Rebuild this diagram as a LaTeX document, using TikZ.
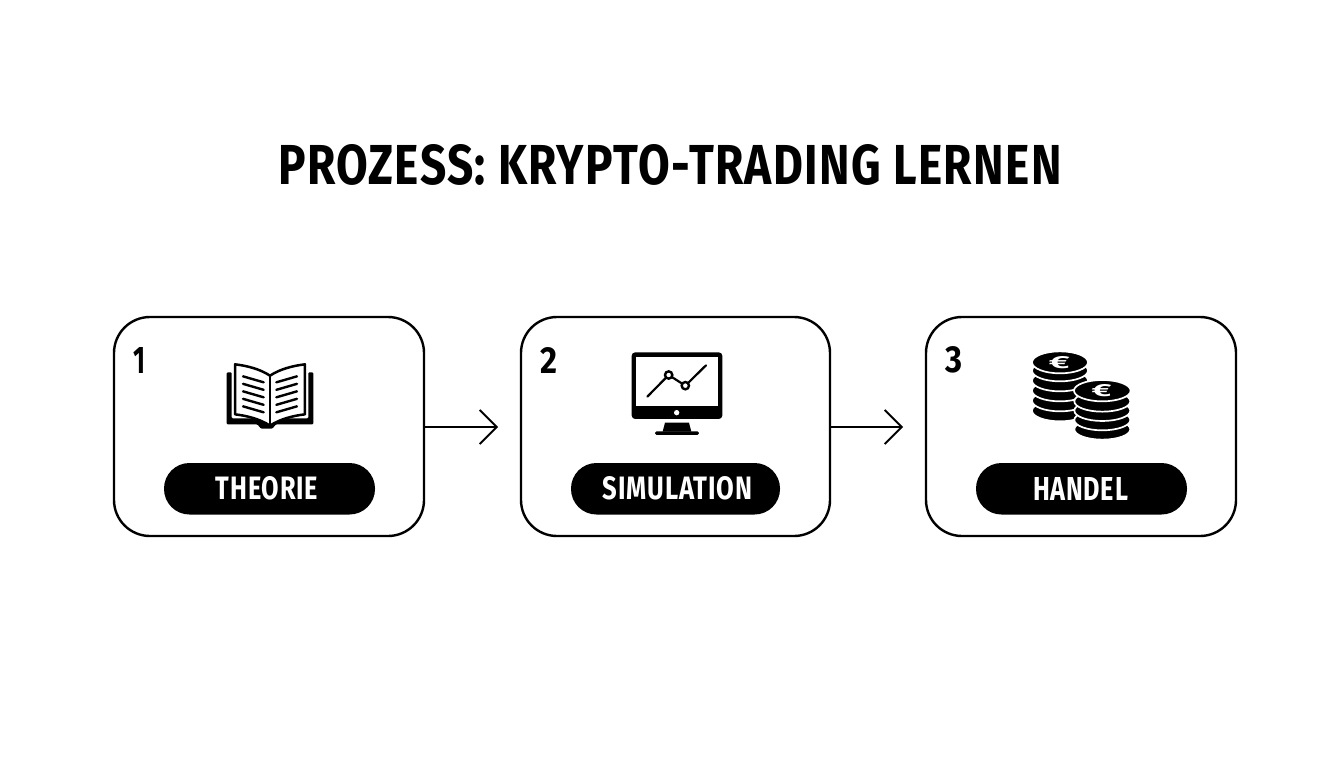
\documentclass[tikz,border=0pt]{standalone}
\usepackage{fontspec}
\usepackage{graphicx}
\setmainfont{Fira Sans}[LetterSpace=3]
\usetikzlibrary{arrows.meta}
\tikzset{
  x=1pt,y=-1pt,
  card/.style={draw=black,line width=2.4pt,fill=white,rounded corners=36pt},
  pill/.style={fill=black,rounded corners=25.5pt},
  txt/.style={inner sep=0pt,outer sep=0pt,font=\bfseries},
  flow/.style={draw=black,line width=1.8pt,-{Straight Barb[length=17pt,width=34pt,line width=1.8pt]}},
  bookline/.style={line width=2.4pt,line cap=round},
  coin/.style={fill=black,draw=white,line width=1.7pt},
}
\newcommand{\fitbox}[3]{\resizebox{#1pt}{#2pt}{\bfseries #3}}
\begin{document}
\begin{tikzpicture}
\useasboundingbox (0,0) rectangle (1344,768);
\fill[white] (0,0) rectangle (1344,768);

\node[txt] (title) at (670,165) {\fitbox{783}{40}{PROZESS: KRYPTO-TRADING LERNEN}};

% cards
\path[card] (114,317) rectangle (424,536);
\path[card] (521,317) rectangle (830,536);
\path[card] (926,317) rectangle (1236,536);
\coordinate (c1) at (424,427);
\coordinate (c3) at (830,427);
\coordinate (a1) at (498,427);
\coordinate (a2) at (903,427);
\draw[flow] (c1) -- (a1);
\draw[flow] (c3) -- (a2);

% pills
\fill[pill] (164,463) rectangle (375,514.5);
\fill[pill] (571,463) rectangle (780,514.5);
\fill[pill] (976,463) rectangle (1187,514.5);
\node[txt,text=white] (l1) at (267,488.5) {\fitbox{102}{23}{THEORIE}};
\node[txt,text=white] (l2) at (677.5,488.5) {\fitbox{149}{23}{SIMULATION}};
\node[txt,text=white] (l3) at (1080.5,488.5) {\fitbox{95}{23}{HANDEL}};

% numbers
\node[txt] (n1) at (139,360) {\fitbox{12}{26}{1}};
\node[txt] (n2) at (548.5,360) {\fitbox{17}{26}{2}};
\node[txt] (n3) at (953.5,360) {\fitbox{17}{26}{3}};

% book
\begin{scope}[shift={(215,355)},x=0.3333pt,y=-0.3333pt]
  \fill[black,rounded corners=1pt] (35,52) -- (50,52) -- (50,190) -- (280,190) -- (280,52) -- (295,52) -- (295,208) -- (183,208) -- (172,221) -- (138,221) -- (127,208) -- (35,208) -- cycle;
  \path[draw=black,fill=white,line width=2.5pt,line join=round] (165,62) .. controls (135,42) and (95,32) .. (60,28) -- (60,178) .. controls (95,182) and (135,192) .. (165,212) .. controls (195,192) and (235,182) .. (270,178) -- (270,28) .. controls (235,32) and (195,42) .. (165,62) -- cycle;
  \draw[line width=2.2pt] (165,62) -- (165,212);
  \foreach \d in {0,22.5,45,67.5,90} {
    \draw[bookline] (84,64+\d) -- (146,82+\d);
    \draw[bookline] (184,82+\d) -- (246,64+\d);
  }
\end{scope}

% monitor
\begin{scope}[shift={(610,340)},x=0.3333pt,y=-0.3333pt]
  \fill[black,rounded corners=3.5pt] (65,37) rectangle (337,237);
  \fill[white] (78,50) rectangle (325,198);
  \fill[white] (200,218) circle[radius=8];
  \fill[black] (165,248) -- (237,248) -- (244,275) -- (158,275) -- cycle;
  \fill[black,rounded corners=1.5pt] (135,274) rectangle (267,285);
  \draw[line width=2.2pt,line cap=round] (112,170) -- (176,105) -- (226,137) -- (288,76);
  \filldraw[fill=white,draw=black,line width=2.4pt] (176,105) circle[radius=11];
  \filldraw[fill=white,draw=black,line width=2.4pt] (226,137) circle[radius=11];
\end{scope}

% coins
\begin{scope}[shift={(1020,340)},x=0.3333pt,y=-0.3333pt]
  \foreach \y in {212,182,152,122,92} {
    \path[coin] (120,\y) ellipse[x radius=84,y radius=32];
  }
  \path[coin] (120,67) ellipse[x radius=84,y radius=33];
  \foreach \y in {268,240,212,184} {
    \path[coin] (247,\y) ellipse[x radius=84,y radius=31];
  }
  \path[coin] (247,152) ellipse[x radius=85,y radius=32];
  \node[txt,text=white] (e1) at (118,67) {\fitbox{21}{12}{€}};
  \node[txt,text=white] (e2) at (245,152) {\fitbox{20}{12}{€}};
\end{scope}
\end{tikzpicture}
\end{document}
